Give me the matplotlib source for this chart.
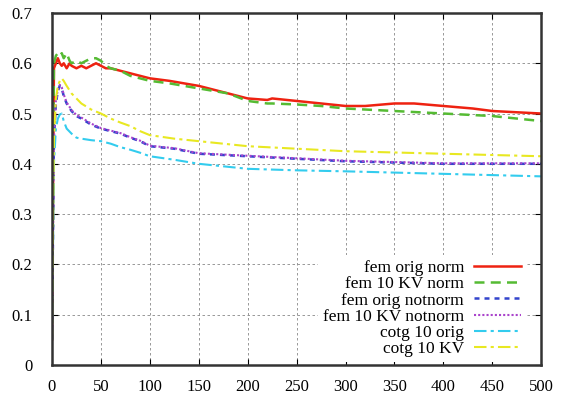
import matplotlib.pyplot as plt

plt.rcParams['font.family'] = ['Liberation Serif', 'DejaVu Serif']

x_norm = [0, 2, 4, 6, 8, 10, 12, 15, 18, 20, 25, 30, 35, 40, 45, 50, 55, 60, 70, 80, 90, 100,
          120, 150, 180, 200, 220, 225, 250, 275, 300, 320, 350, 370, 400, 430, 450, 500]
y_orig_norm = [0.05, 0.59, 0.6, 0.61, 0.6, 0.595, 0.6, 0.59, 0.6, 0.595, 0.59, 0.595, 0.59, 0.595,
               0.6, 0.595, 0.59, 0.59, 0.585, 0.58, 0.575, 0.57, 0.565, 0.555, 0.54, 0.53,
               0.527, 0.53, 0.525, 0.52, 0.515, 0.515, 0.52, 0.52, 0.515, 0.51, 0.505, 0.5]
y_kv_norm = [0.05, 0.6, 0.615, 0.62, 0.615, 0.62, 0.61, 0.62, 0.605, 0.6, 0.605, 0.6, 0.605, 0.61,
             0.61, 0.605, 0.595, 0.59, 0.585, 0.575, 0.57, 0.565, 0.56, 0.55, 0.54, 0.525,
             0.52, 0.52, 0.518, 0.515, 0.51, 0.508, 0.505, 0.503, 0.5, 0.497, 0.495, 0.485]

x_nn = [0, 2, 4, 6, 8, 10, 12, 15, 20, 25, 30, 40, 50, 60, 70, 80, 90, 100, 125, 150, 200,
        250, 300, 400, 500]
y_orig_notnorm = [0.05, 0.45, 0.52, 0.545, 0.555, 0.55, 0.535, 0.52, 0.505, 0.495, 0.49, 0.478,
                  0.47, 0.465, 0.46, 0.452, 0.445, 0.435, 0.43, 0.42, 0.415, 0.41, 0.405, 0.4, 0.4]
y_kv_notnorm = [0.05, 0.45, 0.525, 0.548, 0.557, 0.552, 0.538, 0.522, 0.507, 0.497, 0.492, 0.48,
                0.471, 0.466, 0.461, 0.453, 0.446, 0.436, 0.431, 0.421, 0.416, 0.411, 0.406,
                0.401, 0.401]
y_cotg_orig = [0.05, 0.4, 0.47, 0.49, 0.498, 0.5, 0.485, 0.47, 0.46, 0.452, 0.45, 0.447, 0.445,
               0.44, 0.433, 0.428, 0.422, 0.415, 0.408, 0.4, 0.39, 0.387, 0.385, 0.38, 0.375]
y_cotg_kv = [0.05, 0.45, 0.53, 0.555, 0.565, 0.57, 0.565, 0.555, 0.54, 0.53, 0.52, 0.508, 0.5,
             0.49, 0.482, 0.475, 0.465, 0.457, 0.45, 0.445, 0.435, 0.43, 0.425, 0.42, 0.415]

fig = plt.figure(figsize=(5.65, 3.94), dpi=100)
ax = fig.add_axes([0.092, 0.074, 0.866, 0.893])

ax.plot(x_norm, y_orig_norm, color='#ee2211', lw=1.8, ls='-', label='fem orig norm')
ax.plot(x_norm, y_kv_norm, color='#55bb33', lw=1.8, ls=(0, (4, 2.5)), label='fem 10 KV norm')
ax.plot(x_nn, y_orig_notnorm, color='#3344cc', lw=1.8, ls=(0, (2, 2)), label='fem orig notnorm')
ax.plot(x_nn, y_kv_notnorm, color='#aa44cc', lw=1.5, ls=(0, (1, 1)), label='fem 10 KV notnorm')
ax.plot(x_nn, y_cotg_orig, color='#33ccee', lw=1.5, ls=(0, (6, 2, 1.5, 2)), label='cotg 10 orig')
ax.plot(x_nn, y_cotg_kv, color='#e8e822', lw=1.5, ls=(0, (6, 2, 1.5, 2)), label='cotg 10 KV')

ax.set_xlim(0, 500)
ax.set_ylim(0, 0.7)
ax.set_xticks(range(0, 501, 50))
ax.set_yticks([0, 0.1, 0.2, 0.3, 0.4, 0.5, 0.6, 0.7])
ax.set_yticklabels(['0', '0.1', '0.2', '0.3', '0.4', '0.5', '0.6', '0.7'])
ax.grid(True, color='#888888', ls=(0, (3, 3)), lw=0.6)
ax.tick_params(direction='in', top=True, right=True, labelsize=12, length=4)
ax.tick_params(axis='x', pad=10)
ax.tick_params(axis='y', pad=14)
for s in ax.spines.values():
    s.set_linewidth(1.8)
    s.set_color('#333333')

leg = ax.legend(loc='lower right', frameon=True, markerfirst=False, fontsize=12.5,
                handlelength=2.7, labelspacing=0.0, borderaxespad=0.15, borderpad=0.3,
                handletextpad=0.6, fancybox=False, framealpha=1.0,
                bbox_to_anchor=(0.975, 0.0))
leg.get_frame().set_edgecolor('none')

fig.savefig('out.png', dpi=100)
